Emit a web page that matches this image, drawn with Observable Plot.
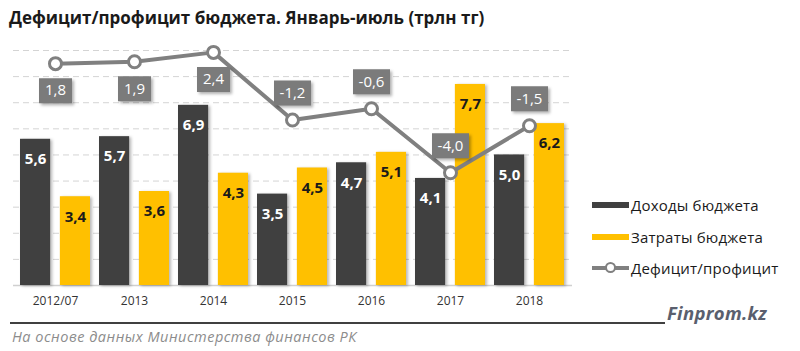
<!DOCTYPE html>
<html>
<head>
<meta charset="utf-8">
<script src="https://cdn.jsdelivr.net/npm/d3@7"></script>
<script src="https://cdn.jsdelivr.net/npm/@observablehq/plot@0.6"></script>
<style>
  html, body { margin: 0; padding: 0; background: #fff; }
  #wrap { position: relative; width: 800px; height: 351px; overflow: hidden; font-family: "Open Sans", sans-serif; }
  #title { position: absolute; left: 9px; top: 6px; font-size: 17px; font-weight: bold; color: #1a1a1a; white-space: nowrap; }
  #chart { position: absolute; left: 0; top: 35px; }
  #chart g[aria-label="bar"] rect { filter: drop-shadow(2px 1px 1.5px rgba(0,0,0,0.28)); }
  #chart g[aria-label="dot"].box path { filter: drop-shadow(2px 2px 1.5px rgba(0,0,0,0.3)); }
  .leg { position: absolute; left: 592px; height: 20px; display: flex; align-items: center; font-size: 15px; letter-spacing: 0.2px; color: #1a1a1a; white-space: nowrap; }
  .sw { width: 37px; height: 6px; margin-right: 2px; }
  .lsw { position: relative; width: 37px; height: 20px; margin-right: 2px; }
  .lsw .ln { position: absolute; left: 0; top: 8px; width: 37px; height: 4px; background: #808080; }
  .lsw .pt { position: absolute; left: 13px; top: 4px; width: 7px; height: 7px; border: 2.5px solid #808080; border-radius: 50%; background: #fff; }
  #rule { position: absolute; left: 10px; top: 322px; width: 655px; height: 2px; background: #404040; }
  #brand { position: absolute; left: 667px; top: 300px; font-size: 18.5px; font-weight: bold; font-style: italic; letter-spacing: 0.3px; color: #5a5f6e; }
  #note { position: absolute; left: 12px; top: 327px; font-size: 14.5px; font-style: italic; letter-spacing: 0.5px; color: #8c8c8c; white-space: nowrap; }
</style>
</head>
<body>
<div id="wrap">
  <div id="title"></div>
  <div id="chart"></div>
  <div id="legend"></div>
  <div id="rule"></div>
  <div id="brand"></div>
  <div id="note"></div>
</div>
<script>
// ---- data ----
const titleText = "Дефицит/профицит бюджета. Январь-июль (трлн тг)";
const years = ["2012/07", "2013", "2014", "2015", "2016", "2017", "2018"];
const revenue = [5.6, 5.7, 6.9, 3.5, 4.7, 4.1, 5.0];     // Доходы бюджета
const spending = [3.4, 3.6, 4.3, 4.5, 5.1, 7.7, 6.2];    // Затраты бюджета
const balance = [1.8, 1.9, 2.4, -1.2, -0.6, -4.0, -1.5]; // Дефицит/профицит
const seriesNames = ["Доходы бюджета", "Затраты бюджета", "Дефицит/профицит"];
const gridTicks = [1, 2, 3, 4, 5, 6, 7, 8, 9];
const yDomain = [0, 9];
const y2Domain = [-10, 2.5]; // secondary axis for the balance line
const noteText = "На основе данных Министерства финансов РК";
const brandText = "Finprom.kz";

// ---- styles / layout ----
const colors = ["#404040", "#FFC000", "#808080"];
const W = 800, H = 275, mL = 13, mR = 228, mT = 15, mB = 25;
const padIn = 0.1125, padOut = 0.0625, gap = 9;
const step = (W - mL - mR) / (years.length - padIn + 2 * padOut);
const bandW = step * (1 - padIn);
const barW = (bandW - gap) / 2;
const inset = bandW - barW;
const off = (barW + gap) / 2;

const fmt = v => v.toFixed(1).replace(".", ",");
const y2 = d3.scaleLinear().domain(y2Domain).range(yDomain);

const rows = years.map((year, i) => ({year, rev: revenue[i], sp: spending[i], bal: balance[i]}));
const pos = rows.filter(d => d.bal > 0);
const neg = rows.filter(d => d.bal <= 0);

const rectSymbol = (w, h) => ({draw(ctx) { ctx.rect(-w / 2, -h / 2, w, h); }});

const boxMarks = (data, w, dy) => [
  Plot.dot(data, {x: "year", y: d => y2(d.bal), symbol: rectSymbol(w, 25), fill: "#7b7b7b", stroke: "none", dy, className: "box"}),
  Plot.text(data, {x: "year", y: d => y2(d.bal), text: d => fmt(d.bal), dy, fill: "white", fontSize: 15})
];

const chart = Plot.plot({
  width: W, height: H,
  marginLeft: mL, marginRight: mR, marginTop: mT, marginBottom: mB,
  style: {fontFamily: "Open Sans, sans-serif", fontSize: "12px", color: "#333", background: "transparent"},
  x: {domain: years, paddingInner: padIn, paddingOuter: padOut, label: null, tickSize: 0, tickPadding: 11},
  y: {domain: yDomain, axis: null},
  marks: [
    Plot.ruleY(gridTicks, {stroke: "#d4d4d4", strokeDasharray: "6,4"}),
    Plot.ruleY([0], {stroke: "#d0d0d0", strokeWidth: 1.5}),
    Plot.barY(rows, {x: "year", y: "rev", fill: colors[0], insetRight: inset}),
    Plot.barY(rows, {x: "year", y: "sp", fill: colors[1], insetLeft: inset}),
    Plot.text(rows, {x: "year", y: "rev", text: d => fmt(d.rev), dx: -off, dy: 20, fill: "white", fontSize: 15, fontWeight: "bold"}),
    Plot.text(rows, {x: "year", y: "sp", text: d => fmt(d.sp), dx: off, dy: 20, fill: "#1a1a1a", fontSize: 15, fontWeight: "bold"}),
    Plot.line(rows, {x: "year", y: d => y2(d.bal), stroke: colors[2], strokeWidth: 4}),
    Plot.dot(rows, {x: "year", y: d => y2(d.bal), r: 6, fill: "white", stroke: colors[2], strokeWidth: 3}),
    ...boxMarks(pos, 33, 27),
    ...boxMarks(neg, 37, -27)
  ]
});
document.getElementById("chart").appendChild(chart);

document.getElementById("title").textContent = titleText;
document.getElementById("note").textContent = noteText;
document.getElementById("brand").textContent = brandText;

const legend = document.getElementById("legend");
const legTops = [195, 227, 258];
seriesNames.forEach((name, i) => {
  const item = document.createElement("div");
  item.className = "leg";
  item.style.top = legTops[i] + "px";
  const sw = document.createElement("div");
  if (i < 2) {
    sw.className = "sw";
    sw.style.background = colors[i];
  } else {
    sw.className = "lsw";
    sw.innerHTML = '<div class="ln"></div><div class="pt"></div>';
  }
  item.appendChild(sw);
  const t = document.createElement("span");
  t.textContent = name;
  item.appendChild(t);
  legend.appendChild(item);
});
</script>
</body>
</html>
